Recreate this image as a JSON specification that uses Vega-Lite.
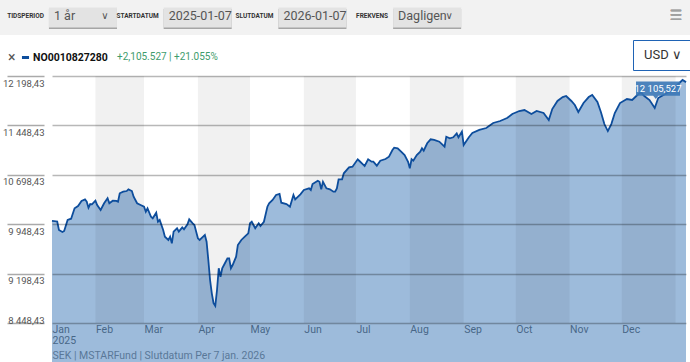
{
  "$schema": "https://vega.github.io/schema/vega-lite/v6.json",
  "padding": {"left": 0, "top": 0, "right": 0, "bottom": 0},
  "background": "white",
  "spacing": 41,
  "bounds": "flush",
  "center": true,
  "resolve": {"legend": {"stroke": "independent", "fill": "independent", "shape": "independent"}},
  "config": {
    "font": "Roboto",
    "view": {"stroke": null},
    "text": {"font": "Roboto"}
  },
  "datasets": {
    "series": [
      {"d":"2025-01-07","v":10000},{"d":"2025-01-10","v":9990},{"d":"2025-01-11","v":9860},{"d":"2025-01-13","v":9830},
      {"d":"2025-01-14","v":9845},{"d":"2025-01-16","v":10012},{"d":"2025-01-18","v":10032},{"d":"2025-01-20","v":10190},
      {"d":"2025-01-22","v":10225},{"d":"2025-01-24","v":10301},{"d":"2025-01-26","v":10326},{"d":"2025-01-27","v":10290},
      {"d":"2025-01-28","v":10199},{"d":"2025-01-29","v":10255},{"d":"2025-01-30","v":10250},{"d":"2025-02-01","v":10305},
      {"d":"2025-02-02","v":10240},{"d":"2025-02-04","v":10164},{"d":"2025-02-06","v":10266},{"d":"2025-02-08","v":10342},
      {"d":"2025-02-09","v":10266},{"d":"2025-02-11","v":10305},{"d":"2025-02-13","v":10301},{"d":"2025-02-14","v":10290},
      {"d":"2025-02-15","v":10418},{"d":"2025-02-17","v":10442},{"d":"2025-02-19","v":10452},{"d":"2025-02-20","v":10478},
      {"d":"2025-02-22","v":10452},{"d":"2025-02-23","v":10366},{"d":"2025-02-25","v":10266},{"d":"2025-02-27","v":10240},
      {"d":"2025-03-01","v":10214},{"d":"2025-03-02","v":10138},{"d":"2025-03-03","v":10190},{"d":"2025-03-05","v":10062},
      {"d":"2025-03-06","v":10038},{"d":"2025-03-08","v":10123},{"d":"2025-03-09","v":9986},{"d":"2025-03-10","v":10012},
      {"d":"2025-03-12","v":9860},{"d":"2025-03-13","v":9759},{"d":"2025-03-15","v":9709},{"d":"2025-03-16","v":9759},
      {"d":"2025-03-17","v":9658},{"d":"2025-03-18","v":9835},{"d":"2025-03-20","v":9886},{"d":"2025-03-21","v":9835},
      {"d":"2025-03-23","v":9901},{"d":"2025-03-24","v":9871},{"d":"2025-03-26","v":9947},{"d":"2025-03-27","v":10023},
      {"d":"2025-03-29","v":9962},{"d":"2025-03-30","v":9936},{"d":"2025-04-01","v":9734},{"d":"2025-04-02","v":9709},
      {"d":"2025-04-04","v":9759},{"d":"2025-04-05","v":9784},{"d":"2025-04-06","v":9683},{"d":"2025-04-07","v":9405},
      {"d":"2025-04-08","v":9101},{"d":"2025-04-09","v":8899},{"d":"2025-04-10","v":8748},{"d":"2025-04-11","v":8707},
      {"d":"2025-04-12","v":8949},{"d":"2025-04-13","v":9279},{"d":"2025-04-14","v":9151},{"d":"2025-04-15","v":9279},
      {"d":"2025-04-17","v":9379},{"d":"2025-04-18","v":9431},{"d":"2025-04-19","v":9431},{"d":"2025-04-20","v":9279},
      {"d":"2025-04-21","v":9329},{"d":"2025-04-23","v":9455},{"d":"2025-04-24","v":9633},{"d":"2025-04-26","v":9709},
      {"d":"2025-04-28","v":9759},{"d":"2025-04-30","v":9810},{"d":"2025-05-01","v":9962},{"d":"2025-05-02","v":9986},
      {"d":"2025-05-03","v":9936},{"d":"2025-05-04","v":9886},{"d":"2025-05-06","v":9962},{"d":"2025-05-07","v":9921},
      {"d":"2025-05-09","v":9986},{"d":"2025-05-11","v":10214},{"d":"2025-05-12","v":10266},{"d":"2025-05-14","v":10316},
      {"d":"2025-05-16","v":10392},{"d":"2025-05-18","v":10407},{"d":"2025-05-19","v":10275},{"d":"2025-05-22","v":10255},
      {"d":"2025-05-24","v":10214},{"d":"2025-05-26","v":10392},{"d":"2025-05-27","v":10326},{"d":"2025-05-30","v":10402},
      {"d":"2025-06-01","v":10468},{"d":"2025-06-04","v":10493},{"d":"2025-06-05","v":10468},{"d":"2025-06-06","v":10559},
      {"d":"2025-06-09","v":10609},{"d":"2025-06-10","v":10593},{"d":"2025-06-11","v":10478},{"d":"2025-06-12","v":10593},
      {"d":"2025-06-14","v":10493},{"d":"2025-06-16","v":10478},{"d":"2025-06-18","v":10442},{"d":"2025-06-19","v":10442},
      {"d":"2025-06-20","v":10493},{"d":"2025-06-21","v":10630},{"d":"2025-06-23","v":10630},{"d":"2025-06-24","v":10721},
      {"d":"2025-06-27","v":10812},{"d":"2025-06-29","v":10822},{"d":"2025-07-02","v":10934},{"d":"2025-07-03","v":10908},
      {"d":"2025-07-05","v":10858},{"d":"2025-07-06","v":10832},{"d":"2025-07-08","v":10934},{"d":"2025-07-10","v":10897},
      {"d":"2025-07-11","v":10897},{"d":"2025-07-13","v":10837},{"d":"2025-07-15","v":10912},{"d":"2025-07-18","v":10938},
      {"d":"2025-07-20","v":10973},{"d":"2025-07-22","v":11075},{"d":"2025-07-23","v":11110},{"d":"2025-07-25","v":11101},
      {"d":"2025-07-27","v":11049},{"d":"2025-07-29","v":10999},{"d":"2025-07-31","v":10897},{"d":"2025-08-01","v":10797},
      {"d":"2025-08-02","v":10934},{"d":"2025-08-03","v":10912},{"d":"2025-08-05","v":10999},{"d":"2025-08-07","v":11049},
      {"d":"2025-08-08","v":11101},{"d":"2025-08-09","v":11064},{"d":"2025-08-11","v":11177},{"d":"2025-08-13","v":11237},
      {"d":"2025-08-15","v":11227},{"d":"2025-08-18","v":11201},{"d":"2025-08-21","v":11125},{"d":"2025-08-22","v":11277},
      {"d":"2025-08-24","v":11253},{"d":"2025-08-26","v":11268},{"d":"2025-08-28","v":11328},{"d":"2025-08-29","v":11268},
      {"d":"2025-08-31","v":11353},{"d":"2025-09-01","v":11151},{"d":"2025-09-04","v":11268},{"d":"2025-09-06","v":11333},
      {"d":"2025-09-10","v":11379},{"d":"2025-09-14","v":11409},{"d":"2025-09-18","v":11485},{"d":"2025-09-22","v":11515},
      {"d":"2025-09-26","v":11561},{"d":"2025-09-29","v":11621},{"d":"2025-10-03","v":11667},{"d":"2025-10-06","v":11682},
      {"d":"2025-10-10","v":11621},{"d":"2025-10-13","v":11667},{"d":"2025-10-17","v":11637},{"d":"2025-10-20","v":11530},
      {"d":"2025-10-22","v":11697},{"d":"2025-10-25","v":11819},{"d":"2025-10-28","v":11879},{"d":"2025-10-30","v":11895},
      {"d":"2025-11-02","v":11819},{"d":"2025-11-04","v":11758},{"d":"2025-11-06","v":11652},{"d":"2025-11-09","v":11788},
      {"d":"2025-11-12","v":11879},{"d":"2025-11-14","v":11910},{"d":"2025-11-17","v":11803},{"d":"2025-11-19","v":11652},
      {"d":"2025-11-21","v":11469},{"d":"2025-11-23","v":11363},{"d":"2025-11-25","v":11469},{"d":"2025-11-27","v":11637},
      {"d":"2025-11-30","v":11788},{"d":"2025-12-04","v":11849},{"d":"2025-12-07","v":11834},{"d":"2025-12-10","v":11910},
      {"d":"2025-12-12","v":11955},{"d":"2025-12-14","v":11895},{"d":"2025-12-17","v":11834},{"d":"2025-12-20","v":11712},
      {"d":"2025-12-22","v":11864},{"d":"2025-12-25","v":11910},{"d":"2025-12-28","v":11955},{"d":"2025-12-31","v":12016},
      {"d":"2026-01-02","v":12062},{"d":"2026-01-05","v":12138},{"d":"2026-01-07","v":12105.527}
    ],
    "bands": [
      {"s":"2025-02-01","e":"2025-03-01"},{"s":"2025-04-01","e":"2025-05-01"},{"s":"2025-06-01","e":"2025-07-01"},
      {"s":"2025-08-01","e":"2025-09-01"},{"s":"2025-10-01","e":"2025-11-01"},{"s":"2025-12-01","e":"2026-01-01"}
    ],
    "badge": [{"d":"2026-01-07","v":12105.527,"t":"12 105,527"}]
  },
  "vconcat": [
    {
      "width": 738,
      "height": 35,
      "view": {"fill": "#f2f2f2", "stroke": null},
      "data": {"values": [
        {"ctrl":"TIDSPERIOD","val":"1 år","chev":"∨"},
        {"ctrl":"STARTDATUM","val":"2025-01-07","chev":""},
        {"ctrl":"SLUTDATUM","val":"2026-01-07","chev":""},
        {"ctrl":"FREKVENS","val":"Dagligen","chev":"∨"}
      ]},
      "layer": [
        {
          "mark": {"type": "rect", "color": "#a5a5a5", "yOffset": 1.5},
          "encoding": {
            "x": {"field": "ctrl", "type": "nominal", "sort": null, "axis": null,
                  "scale": {"type": "band", "domain": ["TIDSPERIOD", "STARTDATUM", "SLUTDATUM", "FREKVENS", "_a", "_b"],
                            "paddingInner": 0.407, "paddingOuter": 0.42, "align": 0.508}},
            "y": {"datum": "r", "type": "nominal", "axis": null,
                  "scale": {"type": "band", "paddingInner": 0, "paddingOuter": 0.375}}
          }
        },
        {
          "mark": {"type": "rect", "color": "#e3e3e3"},
          "encoding": {
            "x": {"field": "ctrl", "type": "nominal", "sort": null, "axis": null},
            "y": {"datum": "r", "type": "nominal", "axis": null}
          }
        },
        {
          "mark": {"type": "text", "align": "right", "dx": -5, "dy": -2, "fontSize": 6.5, "fontWeight": "bold", "color": "#333"},
          "encoding": {
            "x": {"field": "ctrl", "type": "nominal", "sort": null, "axis": null, "bandPosition": 0},
            "y": {"datum": "r", "type": "nominal", "axis": null},
            "text": {"field": "ctrl"}
          }
        },
        {
          "mark": {"type": "text", "align": "left", "dx": 5, "dy": -2, "fontSize": 12.5, "color": "#555"},
          "encoding": {
            "x": {"field": "ctrl", "type": "nominal", "sort": null, "axis": null, "bandPosition": 0},
            "y": {"datum": "r", "type": "nominal", "axis": null},
            "text": {"field": "val"}
          }
        },
        {
          "mark": {"type": "text", "align": "center", "dx": -12, "dy": -2, "fontSize": 10, "color": "#555", "font": "DejaVu Sans"},
          "encoding": {
            "x": {"field": "ctrl", "type": "nominal", "sort": null, "axis": null, "bandPosition": 1},
            "y": {"datum": "r", "type": "nominal", "axis": null},
            "text": {"field": "chev"}
          }
        },
        {
          "mark": {"type": "text", "align": "center", "xOffset": -62, "dy": -2, "fontSize": 14, "color": "#a0a0a0", "font": "DejaVu Sans"},
          "encoding": {
            "x": {"value": "width"},
            "y": {"datum": "r", "type": "nominal", "axis": null},
            "text": {"value": "☰"}
          }
        }
      ]
    },
    {
      "width": 634,
      "height": 247,
      "layer": [
        {
          "data": {"name": "series"},
          "mark": {"type": "area", "color": "#3b78b8", "opacity": 0.5},
          "encoding": {
            "x": {"field": "d", "type": "temporal",
                  "scale": {"type": "utc", "domain": [{"year": 2025, "month": 1, "date": 7, "utc": true}, {"year": 2026, "month": 1, "date": 7, "utc": true}]},
                  "axis": {
                    "values": [
                      {"year": 2025, "month": 1, "date": 7, "utc": true},
                      {"year": 2025, "month": 2, "date": 1, "utc": true},
                      {"year": 2025, "month": 3, "date": 1, "utc": true},
                      {"year": 2025, "month": 4, "date": 1, "utc": true},
                      {"year": 2025, "month": 5, "date": 1, "utc": true},
                      {"year": 2025, "month": 6, "date": 1, "utc": true},
                      {"year": 2025, "month": 7, "date": 1, "utc": true},
                      {"year": 2025, "month": 8, "date": 1, "utc": true},
                      {"year": 2025, "month": 9, "date": 1, "utc": true},
                      {"year": 2025, "month": 10, "date": 1, "utc": true},
                      {"year": 2025, "month": 11, "date": 1, "utc": true},
                      {"year": 2025, "month": 12, "date": 1, "utc": true}
                    ],
                    "labelExpr": "utcmonth(datum.value) == 0 ? ['Jan', '2025'] : utcFormat(datum.value, '%b')",
                    "labelAlign": "left", "labelFlush": false, "labelOverlap": false,
                    "labelColor": "#555", "labelFontSize": 10.5, "labelLineHeight": 11.5, "labelPadding": 1,
                    "ticks": false, "domain": false, "grid": false,
                    "title": "SEK | MSTARFund | Slutdatum Per 7 jan. 2026",
                    "titleAnchor": "start", "titleAlign": "left", "titleFontWeight": "normal",
                    "titleFontSize": 10.5, "titleColor": "#777", "titlePadding": 4
                  }},
            "y": {"field": "v", "type": "quantitative",
                  "scale": {"domain": [8448.43, 12198.43], "nice": false, "zero": false},
                  "axis": {
                    "values": [8448.43, 9198.43, 9948.43, 10698.43, 11448.43, 12198.43],
                    "labelExpr": "replace(replace(format(datum.value, ',.2f'), ',', ' '), '.', ',')",
                    "grid": true, "gridColor": "#000", "gridOpacity": 0.28, "gridWidth": 1.6,
                    "domain": false, "ticks": true, "tickSize": 37, "tickColor": "#aaaaaa", "tickWidth": 1.6,
                    "offset": 8, "labelPadding": -37, "labelAlign": "right",
                    "labelBaseline": {"condition": {"test": "datum.value < 8500", "value": "bottom"}, "value": "top"},
                    "labelOffset": 2, "labelColor": "#555", "labelFontSize": 9.5,
                    "title": null, "zindex": 1
                  }}
          }
        },
        {
          "data": {"name": "bands"},
          "mark": {"type": "rect", "color": "#000", "opacity": 0.055},
          "encoding": {
            "x": {"field": "s", "type": "temporal"},
            "x2": {"field": "e"}
          }
        },
        {
          "data": {"name": "series"},
          "mark": {"type": "line", "strokeWidth": 1.8},
          "encoding": {
            "x": {"field": "d", "type": "temporal"},
            "y": {"field": "v", "type": "quantitative"},
            "stroke": {"datum": "NO0010827280", "type": "nominal", "scale": {"range": ["#0d4d9c"]},
                       "legend": {"orient": "none", "legendX": -44, "legendY": -24, "title": "×", "titleOrient": "left",
                                  "titleFontWeight": "normal", "titleFontSize": 14, "titleColor": "#555", "titlePadding": 4,
                                  "symbolType": "stroke", "symbolStrokeWidth": 3, "symbolSize": 50,
                                  "labelFontWeight": "bold", "labelFontSize": 10.5, "labelColor": "#111", "labelOffset": 2, "padding": 0}}
          }
        },
        {
          "data": {"name": "badge"},
          "mark": {"type": "point", "filled": true, "size": 1936, "opacity": 0.9, "xOffset": -28, "yOffset": 6.5, "strokeWidth": 0},
          "encoding": {
            "x": {"field": "d", "type": "temporal"},
            "y": {"field": "v", "type": "quantitative"},
            "fill": {"datum": "+2,105.527 | +21.055%", "type": "nominal", "scale": {"range": ["#3a77b6"]},
                     "legend": {"orient": "none", "legendX": 55, "legendY": -24, "title": null, "symbolOpacity": 0,
                                "symbolSize": 1, "labelColor": "#3e9c6c", "labelFontSize": 10, "labelOffset": 0, "padding": 0}},
            "shape": {"datum": "USD ∨", "type": "nominal",
                      "scale": {"range": ["M-1,-0.327H1V0.327H0.02L-0.1,0.477L-0.22,0.327H-1Z"]},
                      "legend": {"orient": "none", "legendX": 581, "legendY": -36, "title": null, "symbolOpacity": 0,
                                 "symbolSize": 1, "labelColor": "#333", "labelFontSize": 13, "labelOffset": -10,
                                 "padding": 8, "strokeColor": "#1f63b5"}}
          }
        },
        {
          "data": {"name": "badge"},
          "mark": {"type": "text", "color": "white", "fontSize": 9.5, "xOffset": -28, "yOffset": 6.5},
          "encoding": {
            "x": {"field": "d", "type": "temporal"},
            "y": {"field": "v", "type": "quantitative"},
            "text": {"field": "t"}
          }
        }
      ]
    }
  ]
}
